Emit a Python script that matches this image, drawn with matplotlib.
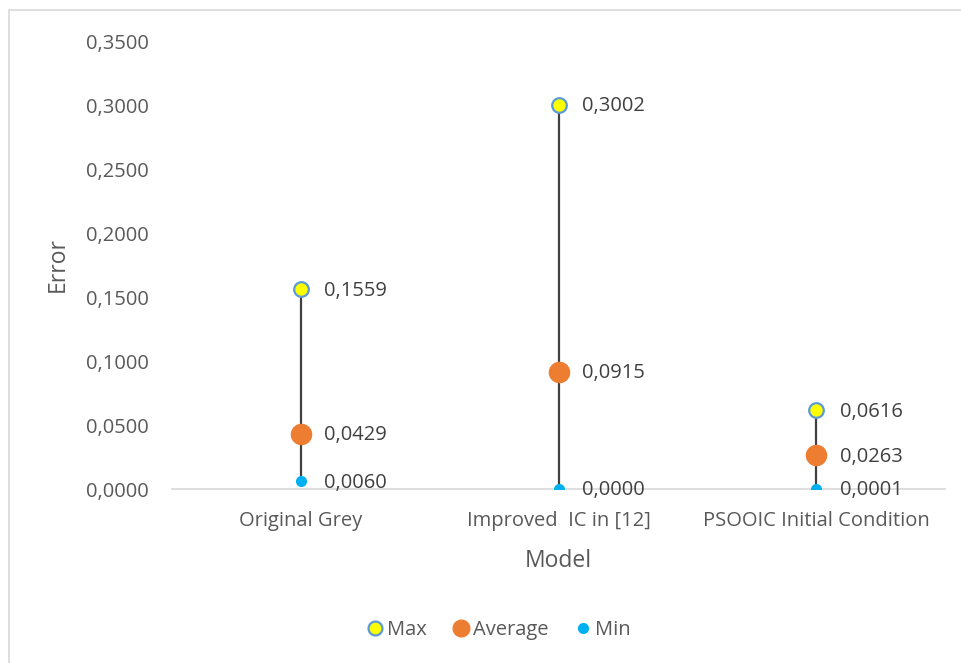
import matplotlib.pyplot as plt
from matplotlib.lines import Line2D
from matplotlib.patches import Rectangle

plt.rcParams['font.family'] = ['Open Sans', 'DejaVu Sans']

# Data
models = ["Original Grey", "Improved  IC in [12]", "PSOOIC Initial Condition"]
err_max = [0.1559, 0.3002, 0.0616]
err_avg = [0.0429, 0.0915, 0.0263]
err_min = [0.0060, 0.0000, 0.0001]
yticks = [0.0, 0.05, 0.10, 0.15, 0.20, 0.25, 0.30, 0.35]

grey = "#595959"
fs = 14.5

fig = plt.figure(figsize=(9.62, 6.63), dpi=100)
# light frame around the chart
fig.patches.append(Rectangle((9 / 962, -0.05), 1.2, 1 - 10 / 663 + 0.05,
                             transform=fig.transFigure, fill=False,
                             edgecolor="#D9D9D9", linewidth=1.2))

ax = fig.add_axes([172 / 962, 1 - 489 / 663, (945 - 172) / 962, (489 - 41) / 663])
x = range(len(models))

# high-low lines
for i in x:
    ax.plot([i, i], [err_min[i], err_max[i]], color="#404040", lw=1.6, zorder=1)

ax.plot(x, err_max, "o", ls="none", ms=10.5, mfc="#FFFF00", mec="#5B9BD5", mew=1.6, zorder=3)
ax.plot(x, err_avg, "o", ls="none", ms=14.5, mfc="#ED7D31", mec="#ED7D31", zorder=3)
ax.plot(x, err_min, "o", ls="none", ms=7, mfc="#00B0F0", mec="#00B0F0", zorder=3)

def fmt(v):
    return f"{v:.4f}".replace(".", ",")

for i in x:
    for vals in (err_max, err_avg, err_min):
        ax.annotate(fmt(vals[i]), (i, vals[i]), xytext=(17, -1), textcoords="offset points",
                    va="center", ha="left", fontsize=fs, color="#404040")

ax.set_xlim(-0.5, 2.5)
ax.set_ylim(0, 0.35)
ax.set_yticks(yticks)
ax.set_yticklabels([fmt(t) for t in yticks])
ax.set_xticks(list(x))
ax.set_xticklabels(models)
ax.tick_params(axis="both", length=0, labelsize=fs, labelcolor=grey)
ax.tick_params(axis="y", pad=16.5)
ax.tick_params(axis="x", pad=16)

for s in ("top", "right", "left"):
    ax.spines[s].set_visible(False)
ax.spines["bottom"].set_color("#D9D9D9")
ax.spines["bottom"].set_linewidth(1.2)
ax.set_facecolor("none")

ax.set_ylabel("Error", fontsize=16.5, color=grey, labelpad=12)
ax.set_xlabel("Model", fontsize=16.5, color=grey, labelpad=13)

handles = [
    Line2D([], [], ls="none", marker="o", ms=10, mfc="#FFFF00", mec="#5B9BD5", mew=1.6),
    Line2D([], [], ls="none", marker="o", ms=12, mfc="#ED7D31", mec="#ED7D31"),
    Line2D([], [], ls="none", marker="o", ms=7, mfc="#00B0F0", mec="#00B0F0"),
]
fig.legend(handles, ["Max", "Average", "Min"], loc="center", bbox_to_anchor=(498 / 962, 1 - 630 / 663),
           ncol=3, frameon=False, fontsize=fs, labelcolor=grey, handletextpad=0.1,
           columnspacing=1.2, handlelength=1)

fig.savefig("out.png", dpi=100)
